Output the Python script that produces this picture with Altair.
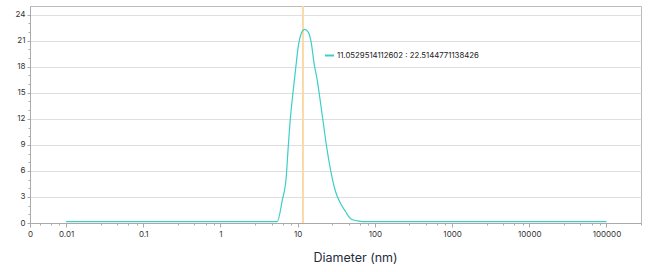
import altair as alt
import pandas as pd

# --- data ---
diameter = [0.01, 0.1, 1, 5.43, 6.31, 7.11, 7.55, 8.09, 8.69, 9.39, 10.2, 11.2, 12.3,
            13.7, 15.0, 16.3, 17.9, 19.8, 21.5, 23.7, 26.7, 31.0, 36.0, 41.8, 48.5,
            59.2, 79.8, 1000, 10000, 100000]
volume = [0.15, 0.15, 0.15, 0.15, 2.6, 5.3, 8.8, 12.3, 15.0, 17.7, 20.4, 21.9, 22.3,
          22.0, 20.75, 18.4, 16.5, 13.8, 11.5, 8.8, 6.1, 3.6, 2.25, 1.3, 0.5,
          0.25, 0.15, 0.15, 0.15, 0.15]
series_label = "11.0529514112602 : 22.5144771138426"
cursor_x = [11.7]

x_major = [0.01, 0.1, 1, 10, 100, 1000, 10000, 100000]
x_min, x_max = 0.00341, 280000
x_minor = []
for d in [0.001] + x_major[:-1]:
    for k in range(1, 5):
        v = round(d * (1 + 1.8 * k), 10)
        if x_min < v < x_max:
            x_minor.append(v)
x_minor.append(x_max)
x_ticks = [x_min] + sorted(x_major + x_minor)

y_ticks = list(range(0, 25))

teal = "#3ccfc7"
font = "Inter"

df = pd.DataFrame({"d": diameter, "v": volume, "s": [series_label] * len(diameter)})
rule_df = pd.DataFrame({"d": cursor_x})

major_js = "[" + ",".join(repr(v) for v in x_major) + "]"

x_axis = alt.Axis(
    values=x_ticks,
    labelExpr=f"datum.value < 0.004 ? '0' : (indexof({major_js}, datum.value) >= 0 ? '' + datum.value : '')",
    tickSize={"condition": {"test": f"indexof({major_js}, datum.value) >= 0 || datum.value < 0.004", "value": 4}, "value": 2},
    grid=False,
    labelFlush=False,
    labelOverlap=False,
    labelFont=font,
    labelFontSize=8,
    labelColor="#333333",
    labelPadding=3,
    tickColor="#aaaaaa",
    domainColor="#aaaaaa",
    title="Diameter (nm)",
    titleFont=font,
    titleFontSize=12.5,
    titleFontWeight="normal",
    titleColor="#1f2d3d",
    titleX=325,
    titleY=28,
    titleAlign="center",
)

y_axis = alt.Axis(
    values=y_ticks,
    labelExpr="datum.value % 3 == 0 ? datum.label : ''",
    tickSize={"condition": {"test": "datum.value % 3 == 0", "value": 3}, "value": 2},
    gridOpacity={"condition": {"test": "datum.value % 3 == 0 && datum.value > 0", "value": 1}, "value": 0},
    gridColor="#dedede",
    labelFont=font,
    labelFontSize=8,
    labelColor="#333333",
    labelPadding=2,
    tickColor="#aaaaaa",
    domainColor="#aaaaaa",
    title=None,
)

x_scale = alt.Scale(type="log", domain=[x_min, x_max], nice=False)
y_scale = alt.Scale(domain=[0, 25], nice=False)

rule = alt.Chart(rule_df).mark_rule(color="#fbd8a8", strokeWidth=2).encode(
    x=alt.X("d:Q", scale=x_scale, axis=x_axis)
)

line = alt.Chart(df).mark_line(strokeWidth=1.2, interpolate="monotone").encode(
    x=alt.X("d:Q", scale=x_scale, axis=x_axis),
    y=alt.Y("v:Q", scale=y_scale, axis=y_axis),
    color=alt.Color(
        "s:N",
        scale=alt.Scale(domain=[series_label], range=[teal]),
        legend=alt.Legend(
            orient="none",
            legendX=294,
            legendY=44,
            title=None,
            symbolType="stroke",
            symbolSize=81,
            symbolStrokeWidth=2,
            labelOffset=2,
            labelFont=font,
            labelFontSize=7.8,
            labelColor="#222222",
            labelLimit=400,
        ),
    ),
)

chart = (
    alt.layer(rule, line)
    .properties(
        width=611,
        height=217,
        autosize=alt.AutoSizeParams(type="none"),
        padding={"left": 30, "top": 6, "right": 12, "bottom": 49},
        background="white",
    )
    .configure_view(stroke="#bbbbbb", strokeWidth=1)
)

chart.save("out.html", embed_options={"renderer": "svg", "actions": False})
